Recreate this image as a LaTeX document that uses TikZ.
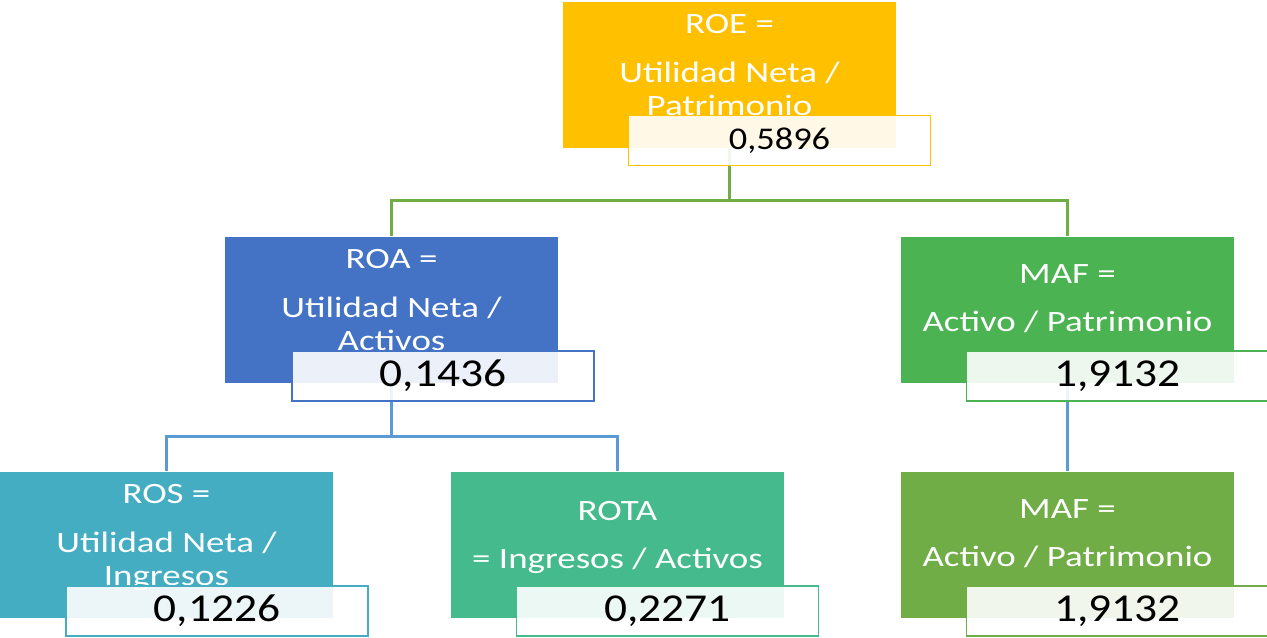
\documentclass[tikz,border=0pt]{standalone}
\usepackage{fontspec}
\setmainfont{Carlito}
\newfontfamily\boxfont{Carlito}[FakeStretch=1.25]
\newfontfamily\valfont{Carlito}[FakeStretch=1.15]
\usepackage{tikz}
\usetikzlibrary{calc}
\definecolor{roeyellow}{HTML}{FFC000}
\definecolor{roablue}{HTML}{4472C4}
\definecolor{mafgreen}{HTML}{4BB351}
\definecolor{rosteal}{HTML}{44ADC2}
\definecolor{rotagreen}{HTML}{45BB8D}
\definecolor{mafolive}{HTML}{70AD47}
\definecolor{linkgreen}{HTML}{70AD47}
\definecolor{linkblue}{HTML}{5B9BD5}

\begin{document}
\begin{tikzpicture}[x=1cm,y=1cm,semithick]
  \tikzstyle{ratio} = [rectangle, minimum width=6.66cm, minimum height=2.92cm,
    inner sep=0pt]
  \tikzstyle{formula} = [text=white, align=center, anchor=north, inner sep=0pt,
    font=\boxfont\fontsize{16.8}{19.3}\selectfont]
  \tikzstyle{value} = [rectangle, fill=white, fill opacity=0.9, text opacity=1,
    minimum width=6.04cm, minimum height=1cm, inner sep=0pt, line width=1pt,
    font=\valfont\fontsize{22.5}{27}\selectfont]
  \tikzstyle{link} = [line width=1.2pt]
  \useasboundingbox (0,0) rectangle (25.34,-12.76);

  % coloured ratio boxes
  \node[ratio, fill=roeyellow] (roe)  at (14.59,-1.50)  {};
  \node[ratio, fill=roablue]   (roa)  at (7.83,-6.20)   {};
  \node[ratio, fill=mafgreen]  (maf)  at (21.35,-6.20)  {};
  \node[ratio, fill=rosteal]   (ros)  at (3.33,-10.90)  {};
  \node[ratio, fill=rotagreen] (rota) at (12.35,-10.90) {};
  \node[ratio, fill=mafolive]  (mafb) at (21.35,-10.90) {};

  % tree lines, drawn before the value boxes so these cover them
  \coordinate (roesplit) at ($(roe.south)+(0,-1.04)$);
  \coordinate (roasplit) at ($(roa.south)+(0,-1.06)$);
  \draw[link, linkgreen] (roe.south) -- (roesplit) -| (roa.north);
  \draw[link, linkgreen] (roesplit) -| (maf.north);
  \draw[link, linkblue] (roa.south) -- (roasplit) -| (ros.north);
  \draw[link, linkblue] (roasplit) -| (rota.north);
  \draw[link, linkblue] (maf.south) -- (mafb.north);

  % formulas
  \node[formula] (roetxt)  at ([yshift=-0.24cm]roe.north)
    {ROE =\\[0.30cm]Utilidad Neta /\\Patrimonio};
  \node[formula] (roatxt)  at ([yshift=-0.24cm]roa.north)
    {ROA =\\[0.30cm]Utilidad Neta /\\Activos};
  \node[formula] (maftxt)  at ([yshift=-0.56cm]maf.north)
    {MAF =\\[0.28cm]Activo / Patrimonio};
  \node[formula] (rostxt)  at ([yshift=-0.24cm]ros.north)
    {ROS =\\[0.30cm]Utilidad Neta /\\Ingresos};
  \node[formula] (rotatxt) at ([yshift=-0.58cm]rota.north)
    {ROTA\\[0.28cm]= Ingresos / Activos};
  \node[formula] (mafbtxt) at ([yshift=-0.56cm]mafb.north)
    {MAF =\\[0.28cm]Activo / Patrimonio};

  % values
  \node[value, draw=roeyellow, font=\valfont\fontsize{18}{22}\selectfont] (roeval)
    at ([xshift=1.0cm,yshift=-1.31cm]roe.center) {0,5896};
  \node[value, draw=roablue]   (roaval)  at ([xshift=1.03cm,yshift=-1.32cm]roa.center)  {0,1436};
  \node[value, draw=mafgreen]  (mafval)  at ([xshift=1.00cm,yshift=-1.32cm]maf.center)  {1,9132};
  \node[value, draw=rosteal]   (rosval)  at ([xshift=1.01cm,yshift=-1.32cm]ros.center)  {0,1226};
  \node[value, draw=rotagreen] (rotaval) at ([xshift=1.00cm,yshift=-1.32cm]rota.center) {0,2271};
  \node[value, draw=mafolive]  (mafbval) at ([xshift=1.00cm,yshift=-1.32cm]mafb.center) {1,9132};
\end{tikzpicture}
\end{document}
